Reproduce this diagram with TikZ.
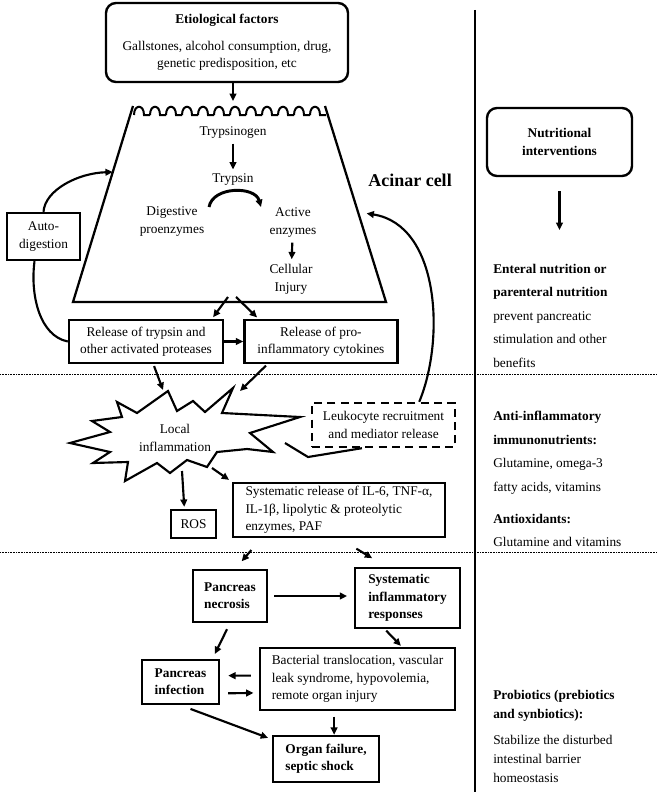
\documentclass[tikz,border=0pt]{standalone}
\usepackage{fontspec}
\setmainfont{Liberation Serif}
\usetikzlibrary{arrows.meta,calc,positioning}

\begin{document}
\begin{tikzpicture}[x=0.75pt,y=-0.75pt,font=\fontsize{10}{13}\selectfont]
\tikzset{box/.style={shape=rectangle,draw,line width=1.8pt,align=left,inner sep=0pt}}
\tikzset{rbox/.style={box,rounded corners=7.5pt,align=center}}
\tikzset{bold/.style={font=\fontsize{10}{13}\selectfont\bfseries}}
\tikzset{arr/.style={line width=1.6pt,-{Triangle[length=5.5pt,width=5pt]}}}
\tikzset{link/.style={line width=1.6pt}}
\tikzset{membrane/.style={line width=1.5pt}}
\tikzset{sep/.style={line width=0.6pt,dash pattern=on 0.5pt off 0.7pt}}
\tikzset{side/.style={anchor=north west,align=left,inner sep=0pt}}
\useasboundingbox (0,0) rectangle (657,792);
%
\node[rbox,minimum width=181.5pt,minimum height=59.25pt] (etio) at (227,42.5) {\textbf{Etiological factors}\\[7pt] Gallstones, alcohol consumption, drug,\\ genetic predisposition, etc};
%
\coordinate (tzTL) at (133,106);
\coordinate (tzTR) at (325,106);
\coordinate (tzBL) at (73,302);
\coordinate (tzBR) at (386,302);
\draw[line width=1.7pt] (tzTL) -- (tzBL) -- (tzBR) -- (tzTR);
\foreach \i in {0,...,11}{
  \pgfmathsetmacro\xa{134+\i*16}
  \draw[membrane] (\xa,115) .. controls (\xa,104) and (\xa+10,104) .. (\xa+10,115) -- (\xa+16,115);
}
\coordinate (memin) at (233,101);
\draw[arr] (etio.south -| memin) -- (memin);
%
\node (tsg) at (233,133) {Trypsinogen};
\node (tryp) at (233,180) {Trypsin};
\node[align=center,font=\fontsize{10}{13.5}\selectfont] (dig) at (172,222) {Digestive\\proenzymes};
\node[align=center,font=\fontsize{10}{13.5}\selectfont] (act) at (293,223) {Active\\enzymes};
\node[align=center,font=\fontsize{10}{13.5}\selectfont] (cell) at (291,279) {Cellular\\Injury};
\node[font=\fontsize{13.5}{16}\selectfont\bfseries] (acinar) at (410,180) {Acinar cell};
\draw[arr] (tsg) -- (tryp);
\draw[arr] (act) -- (cell);
\coordinate (arcin) at (209,207);
\coordinate (arcout) at (261,207);
\draw[arr,line width=2.2pt] (arcin) .. controls (213,186) and (255,186) .. (arcout);
%
\node[box,align=center,minimum width=54.75pt,minimum height=35.25pt] (auto) at (43.5,236.5) {Auto-\\digestion};
\node[box,align=center,minimum width=115.5pt,minimum height=32.25pt] (rel1) at (146,341.5) {Release of trypsin and\\other activated proteases};
\node[box,align=center,minimum width=114.75pt,minimum height=32.25pt,right=14.25pt of rel1] (rel2) {Release of pro-\\inflammatory cytokines};
\coordinate (tzside1) at ($(tzTL)!0.337!(tzBL)$);
\coordinate (tzside2) at ($(tzTR)!0.541!(tzBR)$);
\coordinate (tzout1) at (228,297);
\coordinate (tzout2) at (236,297);
\draw[arr] (auto.north) .. controls (45,190) and (78,173) .. (tzside1);
\draw[link] (rel1.west) .. controls (40,336) and (30,296) .. (auto.-110);
\draw[arr,shorten >=1.5pt] (tzout1) -- (rel1.19);
\draw[arr,shorten >=1.5pt] (tzout2) -- (rel2.160);
\draw[arr] (rel1) -- (rel2);
%
\draw[sep] (0,374) -- (657,374);
\draw[sep] (0,552) -- (657,552);
\draw[line width=1.5pt] (475,10) -- (475,792);
%
\draw[line width=1.6pt,line join=miter] (70,443) -- (110,432) -- (92,421) -- (122,417) -- (117,402) -- (137,413) -- (168,391) -- (177,411) -- (193,401) -- (205,412) -- (233,388) -- (222,413) -- (300,417) -- (250,433) -- (273,452) -- (247,449) -- (217,452) -- (207,467) -- (187,460) -- (170,473) -- (157,463) -- (125,481) -- (128,462) -- (93,463) -- (110,452) -- cycle;
\node[align=center] (infl) at (175,438) {Local\\inflammation};
\coordinate (inflin1) at (163,390);
\coordinate (inflin2) at (240,391);
\coordinate (inflout1) at (182,471);
\coordinate (inflout2) at (212,468);
\coordinate (inflout3) at (285,443);
\coordinate (kink) at (308,457);
\draw[arr,shorten <=1.5pt] (rel1.-72) -- (inflin1);
\draw[arr,shorten <=1.5pt] (rel2.-157) -- (inflin2);
%
\node[box,align=center,dash pattern=on 6pt off 4pt,minimum width=107.25pt,minimum height=33pt] (leuk) at (383.5,425) {Leukocyte recruitment\\and mediator release};
\draw[link] (inflout3) -- (kink) -- (leuk.-133);
\draw[arr,shorten >=6.5pt] (leuk.33) .. controls (445,340) and (440,225) .. (tzside2);
%
\node[box,align=center,minimum width=33.75pt,minimum height=21pt] (ros) at (193.5,524) {ROS};
\node[box,minimum width=159pt,minimum height=40.5pt] (sysrel) at (339,510) {Systematic release of IL-6, TNF-α,\\IL-1β, lipolytic \& proteolytic\\enzymes, PAF};
\draw[arr,shorten >=1.5pt] (inflout1) -- (ros.121);
\draw[arr,shorten >=2.5pt] (inflout2) -- (sysrel.north west);
%
\node[box,bold,minimum width=55.5pt,minimum height=39pt] (necro) at (230,596) {Pancreas\\necrosis};
\node[box,bold,minimum width=78.75pt,minimum height=45pt] (sysinf) at (407.5,598) {Systematic\\inflammatory\\responses};
\node[box,bold,minimum width=57.75pt,minimum height=33pt] (infect) at (180.5,682) {Pancreas\\infection};
\node[box,minimum width=146.25pt,minimum height=46.5pt] (bact) at (357.5,679) {Bacterial translocation, vascular\\leak syndrome, hypovolemia,\\remote organ injury};
\node[box,bold,minimum width=79.5pt,minimum height=34.5pt] (organ) at (326,759) {Organ failure,\\septic shock};
\draw[arr,shorten <=11.7pt,shorten >=7.4pt] (sysrel.200.8) -- (necro.79);
\draw[arr,shorten <=15.2pt,shorten >=12.5pt] (sysrel.south) -- (sysinf.124);
\draw[arr,shorten <=4.5pt,shorten >=5pt] (necro.east) -- (necro.east -| sysinf.west);
\draw[arr,shorten <=5pt,shorten >=4pt] (necro.south) -- (infect.36);
\draw[arr,shorten <=1.5pt,shorten >=1pt] (sysinf.-126) -- (bact.36);
\draw[arr,shorten <=6pt,shorten >=6pt] (bact.178) -- (infect.9);
\draw[arr,shorten <=6pt,shorten >=4pt] (infect.-16) -- (bact.188);
\draw[arr,shorten <=4pt] (bact.-126) -- (bact.-126 |- organ.north);
\draw[arr,shorten <=8pt,shorten >=3pt] (infect.south) -- (organ.160);
%
\node[rbox,bold,minimum width=108.75pt,minimum height=51pt] (nutri) at (559.5,142) {Nutritional\\interventions};
\node[side,font=\fontsize{10}{17.6}\selectfont] (enteral) at (493,264) {\textbf{Enteral nutrition or}\\\textbf{parenteral nutrition}\\prevent pancreatic\\stimulation and other\\benefits};
\draw[arr,shorten <=10.5pt,shorten >=25.5pt] (nutri.south) -- (nutri.south |- enteral.north);
\node[side,font=\fontsize{10}{17.6}\selectfont] (antiinf) at (493,411) {\textbf{Anti-inflammatory}\\\textbf{immunonutrients:}\\Glutamine, omega-3\\fatty acids, vitamins};
\node[side,font=\fontsize{10}{17.25}\selectfont] (antiox) at (493,514) {\textbf{Antioxidants:}\\Glutamine and vitamins};
\node[side,font=\fontsize{10}{14.25}\selectfont] (probio) at (493,690) {\textbf{Probiotics (prebiotics}\\\textbf{and synbiotics):}\\[5pt]Stabilize the disturbed\\intestinal barrier\\homeostasis};
\end{tikzpicture}
\end{document}
